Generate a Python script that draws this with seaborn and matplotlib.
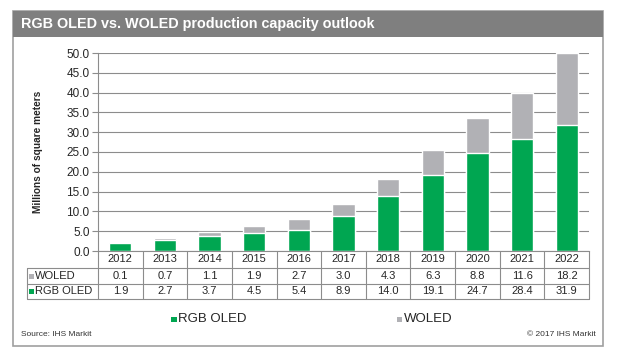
import pandas as pd
import numpy as np
import matplotlib
matplotlib.use("Agg")
import matplotlib.pyplot as plt
import seaborn as sns
from matplotlib.lines import Line2D
from matplotlib.patches import Rectangle

years = ["2012", "2013", "2014", "2015", "2016", "2017", "2018", "2019", "2020", "2021", "2022"]
woled = [0.1, 0.7, 1.1, 1.9, 2.7, 3.0, 4.3, 6.3, 8.8, 11.6, 18.2]
rgb_oled = [1.9, 2.7, 3.7, 4.5, 5.4, 8.9, 14.0, 19.1, 24.7, 28.4, 31.9]
yticks = [0, 5, 10, 15, 20, 25, 30, 35, 40, 45, 50]

title = "RGB OLED vs. WOLED production capacity outlook"
ylabel = "Millions of square meters"
source = "Source: IHS Markit"
copyright_txt = "\u00a9 2017 IHS Markit"

green = "#00A651"
grey = "#B1B1B5"
line_c = "#8C8C8C"

df = pd.DataFrame({"year": years, "woled": woled, "rgb": rgb_oled})
df["total"] = df["woled"] + df["rgb"]

sns.set_theme(style="white")
plt.rcParams["font.family"] = ["Liberation Sans", "DejaVu Sans"]

W, H = 621, 359
fig = plt.figure(figsize=(W / 100, H / 100), dpi=100)

def fx(x):
    return x / W

def fy(y):
    return 1 - y / H

# plot area in pixels
L, R, T, B = 98, 589, 53, 251
ax = fig.add_axes([fx(L), fy(B), fx(R) - fx(L), fy(T) - fy(B)])

sns.barplot(data=df, x="year", y="total", color=grey, saturation=1, width=0.5,
            errorbar=None, ax=ax)
sns.barplot(data=df, x="year", y="rgb", color=green, saturation=1, width=0.5,
            errorbar=None, ax=ax)

ax.set_xlim(-0.5, len(years) - 0.5)
ax.set_ylim(0, 50)
ax.set_yticks(yticks)
ax.set_yticklabels([f"{v:.1f}" for v in yticks], fontsize=8.5)
ax.set_xticks([])
ax.set_xlabel("")
ax.set_ylabel(ylabel, fontsize=7.3, fontweight="bold")
ax.yaxis.grid(True, color=line_c, lw=0.8)
ax.set_axisbelow(True)
for s in ["top", "right"]:
    ax.spines[s].set_visible(False)
for s in ["left", "bottom"]:
    ax.spines[s].set_color(line_c)
    ax.spines[s].set_linewidth(0.8)
ax.tick_params(axis="y", length=4, color=line_c, width=0.8, pad=2, left=True)
ax.yaxis.set_label_coords(-0.113, 0.5)

# outer frame and title bar
fig.add_artist(Rectangle((fx(13), fy(346)), fx(603) - fx(13), fy(11) - fy(346),
                         transform=fig.transFigure, fill=False, ec="#A0A0A0", lw=1.2))
fig.add_artist(Rectangle((fx(13), fy(37)), fx(603) - fx(13), fy(11) - fy(37),
                         transform=fig.transFigure, fc="#7F7F7F", ec="none"))
fig.text(fx(21), fy(24), title, color="white", fontsize=10.4, fontweight="bold",
         va="center", ha="left")

# data table under the axis
col_w = (R - L) / len(years)
rows_y = [B, 268, 284, 299]
tl = 27

def hline(y, x0, x1):
    fig.add_artist(Line2D([fx(x0), fx(x1)], [fy(y), fy(y)], transform=fig.transFigure,
                          color=line_c, lw=0.8))

def vline(x, y0, y1):
    fig.add_artist(Line2D([fx(x), fx(x)], [fy(y0), fy(y1)], transform=fig.transFigure,
                          color=line_c, lw=0.8))

for y in rows_y[1:]:
    hline(y, tl, R)
for k in range(len(years) + 1):
    vline(L + k * col_w, rows_y[0], rows_y[3])
vline(tl, rows_y[1], rows_y[3])

for i, yr in enumerate(years):
    cx = L + (i + 0.5) * col_w
    fig.text(fx(cx), fy((rows_y[0] + rows_y[1]) / 2), yr, ha="center", va="center", fontsize=8)
    fig.text(fx(cx), fy((rows_y[1] + rows_y[2]) / 2), f"{woled[i]:.1f}", ha="center", va="center", fontsize=8)
    fig.text(fx(cx), fy((rows_y[2] + rows_y[3]) / 2), f"{rgb_oled[i]:.1f}", ha="center", va="center", fontsize=8)

for (name, col, r) in [("WOLED", grey, 1), ("RGB OLED", green, 2)]:
    yc = (rows_y[r] + rows_y[r + 1]) / 2
    fig.add_artist(Rectangle((fx(29), fy(yc + 2.5)), fx(5), fy(0) - fy(5),
                             transform=fig.transFigure, fc=col, ec="none"))
    fig.text(fx(35), fy(yc), name, ha="left", va="center", fontsize=8)

# legend
for (name, col, x0) in [("RGB OLED", green, 171), ("WOLED", grey, 397)]:
    fig.add_artist(Rectangle((fx(x0), fy(322)), fx(5.5), fy(0) - fy(5.5),
                             transform=fig.transFigure, fc=col, ec="none"))
    fig.text(fx(x0 + 7), fy(319.5), name, ha="left", va="center", fontsize=9.5)

fig.text(fx(21), fy(336), source, ha="left", va="baseline", fontsize=6, color="#333333")
fig.text(fx(596), fy(336), copyright_txt, ha="right", va="baseline", fontsize=6, color="#333333")

fig.savefig("out.png", dpi=100)
